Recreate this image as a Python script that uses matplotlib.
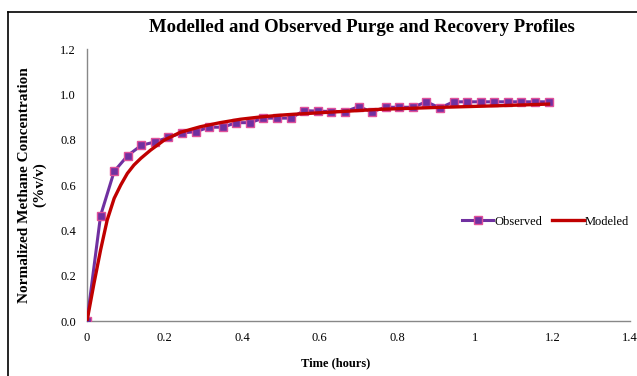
import numpy as np
import matplotlib
matplotlib.use("Agg")
import matplotlib.pyplot as plt
from matplotlib.lines import Line2D

plt.rcParams['font.family'] = ['Liberation Serif', 'DejaVu Serif']

# observed data (hours, normalized concentration)
obs_t = [0.0, 0.035, 0.07, 0.105, 0.14, 0.175, 0.21, 0.245, 0.28, 0.315, 0.35, 0.385,
         0.42, 0.455, 0.49, 0.525, 0.56, 0.595, 0.63, 0.665, 0.7, 0.735, 0.77, 0.805,
         0.84, 0.875, 0.91, 0.945, 0.98, 1.015, 1.05, 1.085, 1.12, 1.155, 1.19]
obs_c = [0.0, 0.465, 0.66, 0.73, 0.775, 0.79, 0.81, 0.83, 0.835, 0.855, 0.855, 0.875,
         0.875, 0.895, 0.895, 0.895, 0.928, 0.926, 0.924, 0.924, 0.945, 0.923, 0.943, 0.943,
         0.943, 0.967, 0.94, 0.967, 0.967, 0.967, 0.967, 0.967, 0.967, 0.967, 0.967]

# modeled curve
mod_t = [0.0, 0.018, 0.035, 0.052, 0.07, 0.087, 0.104, 0.121, 0.139, 0.164, 0.199,
         0.24, 0.292, 0.343, 0.395, 0.446, 0.498, 0.532, 0.644, 0.756, 0.9, 1.066, 1.19]
mod_c = [0.0, 0.166, 0.313, 0.445, 0.541, 0.60, 0.651, 0.688, 0.718, 0.754, 0.798,
         0.832, 0.857, 0.875, 0.89, 0.90, 0.908, 0.912, 0.923, 0.934, 0.942, 0.95, 0.957]

x_ticks = [0, 0.2, 0.4, 0.6, 0.8, 1, 1.2, 1.4]
x_labels = ['0', '0.2', '0.4', '0.6', '0.8', '1', '1.2', '1.4']
y_ticks = [0.0, 0.2, 0.4, 0.6, 0.8, 1.0, 1.2]

fig = plt.figure(figsize=(6.37, 3.76), dpi=100)
ax = fig.add_axes([87/637, 1 - 321/376, 543/637, 272/376])

ax.plot(obs_t, obs_c, color='#7030A0', lw=2.2, marker='s', ms=5.5,
        mfc='#7030A0', mec='#E0509A', mew=1.0, label='Observed', zorder=3)
ax.plot(mod_t, mod_c, color='#C00000', lw=2.4, label='Modeled', zorder=4)

ax.set_xlim(0, 1.4)
ax.set_ylim(0, 1.2)
ax.set_xticks(x_ticks)
ax.set_xticklabels(x_labels)
ax.set_yticks(y_ticks)
ax.set_yticklabels(['%.1f' % v for v in y_ticks])
ax.tick_params(length=0, labelsize=9, pad=8)

for s in ['top', 'right']:
    ax.spines[s].set_visible(False)
for s in ['left', 'bottom']:
    ax.spines[s].set_color('#888888')
    ax.spines[s].set_linewidth(1.0)

ax.set_xlabel('Time (hours)', fontsize=9, fontweight='bold')
ax.xaxis.set_label_coords(0.457, -0.135)
ax.set_ylabel('Normalized Methane Concentration\n(%v/v)', fontsize=11,
              fontweight='bold', labelpad=10)
fig.text(362/637, 1 - 27/376, 'Modelled and Observed Purge and Recovery Profiles',
         ha='center', va='center', fontsize=13.5, fontweight='bold')

ax.legend(loc='center left', bbox_to_anchor=(0.67, 0.365), ncol=2, frameon=False,
          fontsize=9, handlelength=2.5, handletextpad=0.1, columnspacing=0.8)

# outer frame of the chart
fig.add_artist(Line2D([8/637, 8/637], [0, 1 - 12/376], color='black', lw=1.2))
fig.add_artist(Line2D([8/637, 1], [1 - 12/376, 1 - 12/376], color='black', lw=1.2))

fig.savefig('out.png', dpi=100)
